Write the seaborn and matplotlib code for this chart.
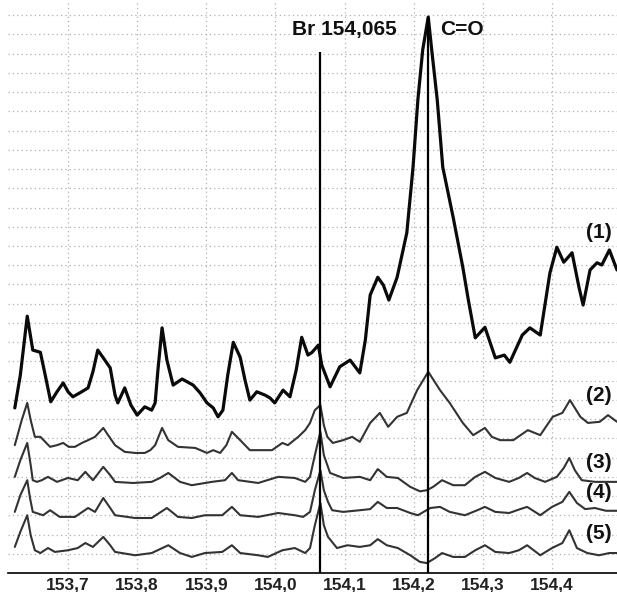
import numpy as np
import pandas as pd
import matplotlib
matplotlib.use("Agg")
import matplotlib.pyplot as plt
import seaborn as sns
from matplotlib.ticker import FuncFormatter, MultipleLocator

# chemical shift (ppm) / relative intensity
ppm1 = [153.623, 153.631, 153.641, 153.649, 153.660, 153.667, 153.675, 153.684, 153.693, 153.700,
        153.707, 153.717, 153.729, 153.736, 153.743, 153.751, 153.761, 153.768, 153.772, 153.782,
        153.791, 153.800, 153.811, 153.821, 153.826, 153.830, 153.836, 153.843, 153.852, 153.865,
        153.881, 153.891, 153.901, 153.910, 153.917, 153.924, 153.931, 153.939, 153.949, 153.956,
        153.963, 153.973, 153.985, 153.992, 153.999, 154.011, 154.021, 154.030, 154.038, 154.047,
        154.053, 154.062, 154.067, 154.079, 154.093, 154.108, 154.122, 154.130, 154.137, 154.148,
        154.156, 154.164, 154.176, 154.190, 154.199, 154.206, 154.213, 154.221, 154.226, 154.234,
        154.242, 154.257, 154.271, 154.279, 154.289, 154.303, 154.318, 154.331, 154.339, 154.357,
        154.368, 154.383, 154.397, 154.407, 154.417, 154.429, 154.439, 154.445, 154.455, 154.465,
        154.472, 154.483, 154.494]
int1 = [29.7, 35.6, 46.2, 40.1, 39.7, 35.6, 30.8, 32.6, 34.2, 32.6,
        31.7, 32.4, 33.3, 36.2, 40.1, 38.7, 36.9, 32.0, 30.6, 33.3,
        30.2, 28.4, 29.9, 29.3, 30.6, 36.5, 44.1, 38.3, 33.8, 34.9,
        33.8, 32.4, 30.6, 29.7, 28.1, 29.3, 35.6, 41.5, 38.8, 34.7,
        31.1, 32.6, 32.0, 31.5, 30.6, 32.9, 31.7, 36.5, 42.4, 39.2,
        39.7, 41.0, 37.4, 33.5, 37.1, 38.3, 36.0, 41.9, 50.0, 53.2,
        51.8, 49.1, 53.2, 61.2, 73.0, 85.1, 94.1, 100.0, 94.1, 85.1,
        73.0, 64.0, 55.0, 49.1, 42.3, 44.2, 38.7, 39.2, 37.9, 42.8,
        44.1, 42.8, 54.0, 58.6, 55.9, 57.6, 51.4, 48.2, 54.5, 55.8,
        55.4, 58.1, 54.5]

ppm2 = [153.623, 153.633, 153.641, 153.646, 153.652, 153.660, 153.667, 153.674, 153.684, 153.693,
        153.701, 153.710, 153.720, 153.729, 153.739, 153.751, 153.758, 153.768, 153.782, 153.797,
        153.811, 153.819, 153.826, 153.836, 153.845, 153.859, 153.884, 153.901, 153.910, 153.920,
        153.929, 153.937, 153.949, 153.963, 153.981, 153.995, 154.010, 154.018, 154.033, 154.043,
        154.050, 154.057, 154.065, 154.070, 154.075, 154.083, 154.098, 154.111, 154.122, 154.137,
        154.151, 154.163, 154.176, 154.190, 154.205, 154.221, 154.238, 154.252, 154.271, 154.286,
        154.303, 154.313, 154.325, 154.344, 154.365, 154.383, 154.401, 154.415, 154.426, 154.441,
        154.452, 154.469, 154.481, 154.494]
int2 = [23.0, 27.5, 30.6, 27.5, 24.5, 24.5, 23.6, 22.7, 23.0, 23.4,
        22.7, 22.7, 23.4, 23.9, 24.5, 26.1, 24.8, 23.0, 21.8, 21.6,
        21.6, 22.1, 23.0, 26.1, 23.9, 22.7, 22.5, 21.6, 22.1, 21.6,
        23.0, 25.4, 23.9, 22.1, 22.1, 22.1, 23.4, 23.0, 24.5, 25.7,
        27.0, 29.3, 30.2, 26.6, 24.5, 23.4, 23.9, 24.5, 23.6, 27.0,
        28.8, 26.3, 28.1, 28.8, 32.9, 36.2, 32.9, 30.6, 27.0, 24.8,
        26.1, 24.5, 23.9, 23.9, 25.7, 24.8, 28.1, 28.8, 31.1, 28.1,
        27.0, 27.2, 28.4, 27.2]

ppm3 = [153.623, 153.631, 153.641, 153.646, 153.649, 153.655, 153.662, 153.671, 153.684, 153.700,
        153.714, 153.725, 153.736, 153.751, 153.761, 153.768, 153.794, 153.821, 153.833, 153.845,
        153.862, 153.879, 153.908, 153.927, 153.937, 153.946, 153.975, 154.004, 154.028, 154.043,
        154.050, 154.057, 154.065, 154.070, 154.079, 154.098, 154.122, 154.137, 154.148, 154.161,
        154.177, 154.195, 154.209, 154.219, 154.228, 154.241, 154.257, 154.274, 154.289, 154.303,
        154.318, 154.338, 154.352, 154.364, 154.375, 154.390, 154.407, 154.417, 154.425, 154.433,
        154.443, 154.462, 154.494]
int3 = [17.3, 20.3, 23.4, 19.4, 16.7, 16.4, 16.7, 17.3, 16.4, 17.1,
        16.7, 18.2, 16.7, 19.1, 17.6, 16.4, 16.2, 16.4, 17.1, 18.0,
        16.4, 15.8, 16.4, 16.7, 18.0, 16.7, 16.2, 17.3, 17.1, 16.4,
        17.3, 21.2, 25.4, 21.2, 18.0, 17.1, 17.3, 16.7, 18.7, 17.3,
        17.1, 15.5, 14.7, 14.9, 15.5, 16.7, 15.8, 15.8, 17.3, 18.2,
        17.1, 16.4, 17.1, 18.0, 17.1, 16.4, 17.3, 18.9, 20.7, 18.5,
        16.7, 16.4, 16.4]

ppm4 = [153.623, 153.631, 153.641, 153.645, 153.649, 153.664, 153.674, 153.688, 153.710, 153.729,
        153.739, 153.751, 153.761, 153.768, 153.797, 153.821, 153.843, 153.859, 153.879, 153.898,
        153.923, 153.937, 153.949, 153.975, 154.004, 154.028, 154.040, 154.050, 154.057, 154.065,
        154.070, 154.076, 154.082, 154.098, 154.122, 154.137, 154.148, 154.161, 154.176, 154.195,
        154.206, 154.224, 154.238, 154.252, 154.274, 154.292, 154.303, 154.318, 154.338, 154.354,
        154.364, 154.383, 154.400, 154.415, 154.425, 154.436, 154.448, 154.462, 154.478, 154.494]
int4 = [11.0, 14.0, 16.7, 13.5, 11.0, 10.4, 11.3, 10.1, 10.1, 11.7,
        11.0, 13.5, 11.7, 10.4, 9.9, 9.9, 11.7, 10.1, 9.9, 10.4,
        10.4, 11.9, 10.4, 10.1, 10.8, 10.4, 10.1, 11.0, 14.9, 18.5,
        14.9, 12.8, 11.3, 11.0, 11.3, 11.5, 12.8, 11.7, 11.7, 10.8,
        10.4, 11.7, 11.9, 11.0, 10.4, 11.3, 11.9, 11.0, 10.8, 11.5,
        11.9, 10.4, 11.9, 12.8, 14.6, 12.6, 11.5, 11.7, 11.2, 11.2]

ppm5 = [153.623, 153.631, 153.641, 153.646, 153.652, 153.660, 153.671, 153.681, 153.700, 153.714,
        153.725, 153.736, 153.751, 153.761, 153.768, 153.797, 153.821, 153.845, 153.862, 153.879,
        153.898, 153.923, 153.937, 153.949, 153.975, 153.989, 154.010, 154.028, 154.043, 154.050,
        154.057, 154.065, 154.070, 154.076, 154.089, 154.104, 154.122, 154.137, 154.148, 154.161,
        154.177, 154.195, 154.209, 154.219, 154.231, 154.241, 154.257, 154.274, 154.289, 154.303,
        154.318, 154.338, 154.352, 154.364, 154.383, 154.400, 154.415, 154.425, 154.436, 154.451,
        154.468, 154.483, 154.494]
int5 = [4.7, 7.4, 10.4, 6.8, 4.1, 3.6, 4.5, 3.8, 4.1, 4.5,
        5.4, 4.7, 6.5, 5.0, 3.8, 3.2, 3.6, 5.0, 3.6, 2.9,
        3.6, 3.8, 5.0, 3.6, 3.2, 2.9, 4.1, 4.5, 3.6, 4.5,
        8.6, 12.6, 8.6, 6.5, 4.5, 5.0, 4.7, 5.0, 6.1, 5.0,
        4.5, 3.2, 2.0, 1.8, 2.7, 3.6, 2.9, 2.9, 4.1, 5.0,
        3.8, 3.6, 4.1, 5.0, 3.2, 4.5, 5.4, 7.7, 4.5, 3.6,
        3.2, 3.6, 3.6]

labels = ["(1)", "(2)", "(3)", "(4)", "(5)"]
label_y = [61.2, 32.0, 19.8, 14.4, 7.2]

br_shift, br_top = 154.065, 93.7
co_shift, co_top = 154.221, 100.0
xticks = [153.7, 153.8, 153.9, 154.0, 154.1, 154.2, 154.3, 154.4]

sns.set_style("white")
plt.rcParams["font.family"] = ["Liberation Sans", "DejaVu Sans"]

fig = plt.figure(figsize=(6.17, 5.92), dpi=100)
ax = fig.add_axes([0.013, 0.032, 0.987, 0.968])

traces = [(ppm1, int1), (ppm2, int2), (ppm3, int3), (ppm4, int4), (ppm5, int5)]
colors = ["#0a0a0a", "#333333", "#333333", "#333333", "#333333"]
widths = [2.3, 1.5, 1.5, 1.5, 1.5]
for (x, y), c, w in zip(traces, colors, widths):
    df = pd.DataFrame({"ppm": x, "intensity": y})
    sns.lineplot(data=df, x="ppm", y="intensity", ax=ax, color=c, lw=w,
                 sort=False, estimator=None, zorder=3, solid_joinstyle="round")

# reference lines
ax.vlines(br_shift, 0, br_top, color="black", lw=1.6, zorder=4)
ax.vlines(co_shift, 0, co_top, color="black", lw=1.6, zorder=4)
ax.text(154.176, 97.7, "Br 154,065", ha="right", va="center", fontsize=15,
        fontweight="bold", color="#111111")
ax.text(154.238, 97.7, "C=O", ha="left", va="center", fontsize=15,
        fontweight="bold", color="#111111")

for lab, ly in zip(labels, label_y):
    ax.text(154.468, ly, lab, ha="center", va="center", fontsize=15,
            fontweight="bold", color="#111111")

ax.set_xlim(153.6132, 154.494)
ax.set_ylim(0, 103.06)
ax.set_xticks(xticks)
ax.xaxis.set_minor_locator(MultipleLocator(0.05))
ax.xaxis.set_major_formatter(FuncFormatter(lambda v, p: f"{v:.1f}".replace(".", ",")))
ax.set_yticks(np.arange(3.46, 101, 3.46))
ax.tick_params(axis="y", left=False, labelleft=False)
ax.tick_params(axis="x", which="major", direction="inout", length=5, width=1,
               labelsize=12.5, pad=1, colors="black")
ax.tick_params(axis="x", which="minor", direction="inout", length=3, width=1)
for t in ax.get_xticklabels():
    t.set_fontweight("bold")
    t.set_color("#222222")
ax.grid(True, which="major", ls=(0, (1, 2.5)), color="#b0b0b0", lw=0.9)
ax.set_xlabel("")
ax.set_ylabel("")
for s in ["left", "right", "top"]:
    ax.spines[s].set_visible(False)
ax.spines["bottom"].set_color("black")
ax.spines["bottom"].set_linewidth(1.2)

fig.savefig("out.png", dpi=100)
